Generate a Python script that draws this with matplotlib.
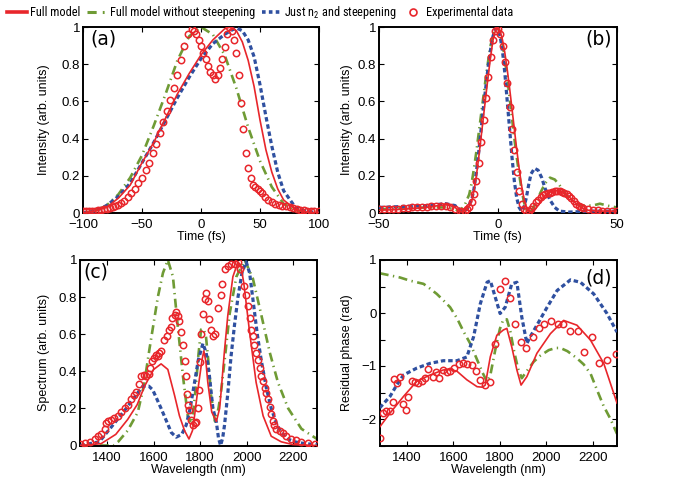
import numpy as np
import matplotlib
matplotlib.use('Agg')
import matplotlib.pyplot as plt
from matplotlib.lines import Line2D
from matplotlib import font_manager

# ------------------------------------------------------------------ data
# (a) intensity vs time (fs)
a_full_t = [-100, -90, -80, -70, -60, -50, -40, -30, -20, -10, 0, 10, 20, 25, 30, 35, 40, 45, 50, 55, 60, 65, 70, 80, 90, 100]
a_full_y = [0.0, 0.01, 0.03, 0.08, 0.15, 0.27, 0.38, 0.51, 0.64, 0.75, 0.85, 0.93, 0.99, 1.0, 0.98, 0.92, 0.82, 0.68, 0.50, 0.34, 0.22, 0.13, 0.07, 0.02, 0.005, 0.0]
a_n2_t = [-100, -90, -80, -70, -60, -50, -40, -30, -20, -10, 0, 10, 20, 25, 30, 35, 40, 45, 50, 55, 60, 65, 70, 80, 90, 100]
a_n2_y = [0.0, 0.01, 0.04, 0.09, 0.16, 0.27, 0.38, 0.50, 0.62, 0.73, 0.83, 0.91, 0.96, 0.98, 0.995, 0.98, 0.93, 0.84, 0.69, 0.52, 0.36, 0.22, 0.12, 0.03, 0.008, 0.0]
a_nost_t = [-100, -90, -80, -70, -60, -50, -40, -30, -20, -10, 0, 10, 20, 30, 40, 50, 60, 70, 80, 90, 100]
a_nost_y = [0.0, 0.01, 0.04, 0.10, 0.19, 0.31, 0.47, 0.64, 0.82, 0.95, 1.0, 0.96, 0.85, 0.67, 0.46, 0.28, 0.14, 0.05, 0.015, 0.003, 0.0]
a_exp_t = [-100, -97.5, -95, -92.5, -90, -87.5, -85, -82.5, -80, -77.5, -75, -72.5, -70, -67.5, -65,
           -62, -59, -56, -53, -50, -47, -44, -41, -38, -35, -32, -29, -26, -23, -20, -17, -14, -11, -8,
           -6, -4, -2, 0, 2, 4, 6, 8, 10, 12, 14, 16, 18, 20, 22, 24, 26, 28, 30, 32, 34, 36, 38, 40,
           42, 44, 46, 48, 50, 52, 54, 57, 60, 63, 66, 69, 72, 75, 78, 81, 84, 87, 90, 93, 96, 100]
a_exp_y = [0.01, 0.01, 0.01, 0.012, 0.013, 0.015, 0.017, 0.02, 0.023, 0.027, 0.032, 0.038, 0.045, 0.055, 0.065,
           0.085, 0.105, 0.13, 0.16, 0.19, 0.23, 0.27, 0.32, 0.37, 0.43, 0.49, 0.55, 0.61, 0.67, 0.74, 0.82, 0.90, 0.96, 0.99,
           0.98, 0.96, 0.93, 0.90, 0.86, 0.83, 0.79, 0.76, 0.74, 0.72, 0.74, 0.78, 0.83, 0.89, 0.96, 1.0, 0.98, 0.93, 0.86, 0.74, 0.59, 0.45, 0.32, 0.24,
           0.19, 0.15, 0.14, 0.13, 0.12, 0.105, 0.085, 0.07, 0.06, 0.05, 0.045, 0.04, 0.035, 0.03, 0.025, 0.02, 0.018, 0.015, 0.012, 0.01, 0.01, 0.01]

# (b) intensity vs time (fs)
b_full_t = [-50, -40, -30, -25, -21, -18, -15.5, -13, -11, -10, -9, -8, -7, -6, -5, -4, -3, -2, -1, 0, 1, 2, 3, 4, 5, 6, 7, 8, 9, 10, 11, 12, 13, 14, 15, 17, 19, 21, 23, 25, 27, 29, 31, 33, 35, 38, 42, 50]
b_full_y = [0.015, 0.02, 0.03, 0.04, 0.045, 0.03, 0.005, 0.02, 0.06, 0.12, 0.20, 0.30, 0.41, 0.52, 0.63, 0.74, 0.84, 0.93, 0.98, 1.0, 0.98, 0.93, 0.86, 0.77, 0.67, 0.56, 0.45, 0.34, 0.24, 0.15, 0.08, 0.035, 0.01, 0.005, 0.01, 0.04, 0.08, 0.105, 0.118, 0.12, 0.115, 0.10, 0.075, 0.05, 0.03, 0.015, 0.01, 0.01]
b_n2_t = [-50, -40, -30, -22, -18, -15, -13, -11, -10, -9, -8, -7, -6, -5, -4, -3, -2, -1, 0, 1, 2, 3, 4, 5, 6, 7, 8, 9, 10, 11, 12, 13, 14, 15.5, 17, 18.5, 20, 22, 24, 26, 30, 40, 50]
b_n2_y = [0.03, 0.035, 0.04, 0.05, 0.04, 0.01, 0.02, 0.07, 0.13, 0.22, 0.33, 0.45, 0.57, 0.68, 0.79, 0.88, 0.95, 0.99, 0.99, 0.95, 0.87, 0.75, 0.60, 0.45, 0.30, 0.17, 0.08, 0.03, 0.01, 0.03, 0.08, 0.15, 0.21, 0.24, 0.23, 0.19, 0.13, 0.07, 0.03, 0.01, 0.005, 0.01, 0.01]
b_nost_t = [-50, -40, -30, -22, -18, -16, -14, -12, -11, -10, -9, -8, -7, -6, -5, -4, -3, -2, -1, 0, 1, 2, 3, 4, 5, 6, 7, 8, 9, 10, 11, 12, 13, 14, 16, 18, 20, 22, 24, 26, 28, 30, 33, 36, 40, 43, 46, 50]
b_nost_y = [0.02, 0.025, 0.03, 0.03, 0.02, 0.01, 0.04, 0.10, 0.16, 0.24, 0.33, 0.43, 0.53, 0.63, 0.73, 0.82, 0.90, 0.96, 0.995, 1.0, 0.97, 0.91, 0.83, 0.73, 0.62, 0.51, 0.40, 0.30, 0.21, 0.13, 0.06, 0.02, 0.005, 0.01, 0.05, 0.11, 0.16, 0.19, 0.18, 0.15, 0.11, 0.08, 0.05, 0.04, 0.04, 0.05, 0.04, 0.03]
b_exp_t = [-50, -48, -46, -44, -42, -40, -38, -36, -34, -32, -30, -28, -26, -24, -22, -20, -18, -16, -15, -14, -13, -12, -11, -10, -9, -8, -7, -6, -5, -4, -3, -2, -1, 0,
           1, 2, 3, 4, 5, 6, 7, 8, 9, 10, 11, 12, 13, 14, 15, 16, 17, 18, 19, 20, 21, 22, 23, 24, 25, 26, 27, 28, 29, 30, 31, 32, 33, 34, 35, 36, 38, 40, 42, 44, 46, 48, 50]
b_exp_y = [0.02, 0.02, 0.02, 0.02, 0.02, 0.025, 0.025, 0.03, 0.03, 0.03, 0.03, 0.035, 0.035, 0.035, 0.035, 0.03, 0.02, 0.01, 0.005, 0.01, 0.02, 0.03, 0.06, 0.10, 0.17, 0.27, 0.38, 0.50, 0.62, 0.73, 0.84, 0.93, 0.98, 0.99,
           0.96, 0.90, 0.81, 0.70, 0.57, 0.45, 0.34, 0.22, 0.12, 0.05, 0.02, 0.01, 0.01, 0.02, 0.04, 0.06, 0.07, 0.085, 0.095, 0.10, 0.105, 0.11, 0.115, 0.118, 0.12, 0.12, 0.115, 0.11, 0.10, 0.09, 0.08, 0.065, 0.05, 0.04, 0.03, 0.025, 0.02, 0.015, 0.015, 0.01, 0.01, 0.01, 0.01]

# (c) spectrum vs wavelength (nm)
c_full_w = [1285, 1374, 1437, 1488, 1529, 1561, 1600, 1632, 1661, 1690, 1711, 1733, 1752, 1767, 1776, 1787, 1798, 1808, 1816, 1825, 1833, 1850, 1870, 1884, 1891, 1904, 1919, 1941, 1963, 1975, 1988, 2013, 2041, 2071, 2106, 2149, 2199, 2303]
c_full_y = [0.0, 0.01, 0.06, 0.14, 0.22, 0.32, 0.41, 0.44, 0.41, 0.27, 0.16, 0.08, 0.035, 0.08, 0.16, 0.27, 0.37, 0.46, 0.51, 0.45, 0.34, 0.18, 0.13, 0.20, 0.30, 0.50, 0.70, 0.91, 0.99, 0.97, 0.875, 0.61, 0.34, 0.16, 0.05, 0.02, 0.005, 0.0]
c_n2_w = [1285, 1366, 1431, 1488, 1529, 1554, 1579, 1596, 1632, 1676, 1697, 1721, 1740, 1757, 1776, 1792, 1812, 1826, 1840, 1855, 1870, 1879, 1888, 1897, 1905, 1919, 1933, 1948, 1963, 1980, 1998, 2013, 2027, 2046, 2063, 2085, 2106, 2128, 2149, 2178, 2207, 2250, 2303]
c_n2_y = [0.0, 0.02, 0.12, 0.21, 0.28, 0.32, 0.32, 0.30, 0.20, 0.07, 0.045, 0.06, 0.11, 0.20, 0.34, 0.46, 0.55, 0.50, 0.375, 0.20, 0.125, 0.04, 0.0, 0.04, 0.11, 0.28, 0.48, 0.65, 0.80, 0.93, 0.99, 0.93, 0.79, 0.60, 0.46, 0.31, 0.20, 0.12, 0.07, 0.035, 0.02, 0.01, 0.005]
c_nost_w = [1285, 1427, 1447, 1488, 1532, 1559, 1582, 1600, 1618, 1640, 1661, 1683, 1704, 1726, 1747, 1762, 1772, 1783, 1792, 1804, 1814, 1825, 1838, 1847, 1864, 1879, 1891, 1909, 1927, 1956, 1992, 2027, 2064, 2100, 2135, 2179, 2236, 2303]
c_nost_y = [0.0, 0.0, 0.02, 0.08, 0.18, 0.33, 0.52, 0.66, 0.80, 0.93, 1.0, 0.91, 0.64, 0.375, 0.16, 0.12, 0.20, 0.34, 0.48, 0.625, 0.63, 0.59, 0.42, 0.27, 0.13, 0.20, 0.30, 0.50, 0.71, 0.91, 1.0, 0.90, 0.70, 0.50, 0.34, 0.20, 0.09, 0.035]
c_exp_w = [1285, 1305, 1326, 1346, 1361, 1374, 1389, 1396, 1403, 1417, 1431, 1445, 1460, 1475, 1489, 1503, 1514, 1525, 1535, 1546, 1558, 1568, 1578, 1585, 1593, 1601, 1608, 1618, 1625, 1632,
           1646, 1659, 1664, 1673, 1680, 1690, 1697, 1704, 1711, 1718, 1726, 1733, 1738, 1743, 1749, 1754, 1762, 1769, 1776, 1783, 1790, 1794, 1801, 1805, 1812, 1819, 1826, 1833, 1840, 1847, 1855, 1862,
           1877, 1888, 1895, 1905, 1919, 1934, 1948, 1963, 1970, 1988, 1998, 2006, 2013, 2020, 2027, 2034, 2041, 2049, 2056, 2064, 2071, 2078, 2085, 2092, 2099, 2106, 2113, 2120, 2127,
           2142, 2157, 2171, 2192, 2214, 2235, 2264, 2293]
c_exp_y = [0.01, 0.015, 0.02, 0.035, 0.05, 0.06, 0.09, 0.12, 0.13, 0.14, 0.15, 0.16, 0.18, 0.20, 0.22, 0.25, 0.27, 0.29, 0.33, 0.375, 0.38, 0.375, 0.385, 0.42, 0.455, 0.47, 0.49, 0.48, 0.50, 0.51,
           0.57, 0.59, 0.625, 0.64, 0.69, 0.705, 0.72, 0.70, 0.67, 0.61, 0.54, 0.455, 0.375, 0.28, 0.22, 0.19, 0.14, 0.11, 0.12, 0.125, 0.20, 0.30, 0.45, 0.60, 0.71, 0.79, 0.82, 0.78, 0.68, 0.625, 0.59, 0.60,
           0.74, 0.81, 0.87, 0.95, 0.97, 0.98, 0.98, 0.99, 0.95, 0.86, 0.81, 0.75, 0.69, 0.625, 0.59, 0.54, 0.50, 0.46, 0.42, 0.375, 0.35, 0.31, 0.285, 0.25, 0.205, 0.17, 0.13, 0.11, 0.09,
           0.08, 0.07, 0.05, 0.035, 0.027, 0.018, 0.012, 0.01]

# (d) residual phase (rad) vs wavelength (nm)
d_full_w = [1284, 1328, 1386, 1443, 1500, 1557, 1586, 1616, 1658, 1702, 1725, 1737, 1759, 1787, 1815, 1830, 1851, 1873, 1891, 1916, 1959, 2017, 2074, 2131, 2189, 2246, 2303]
d_full_y = [-2.15, -1.89, -1.575, -1.29, -1.17, -1.075, -1.06, -1.10, -1.26, -1.39, -1.40, -1.36, -0.825, -0.42, -0.32, -0.29, -0.64, -1.075, -1.36, -1.20, -0.76, -0.39, -0.14, -0.23, -0.51, -0.95, -1.70]
d_n2_w = [1284, 1328, 1357, 1386, 1443, 1500, 1557, 1616, 1658, 1687, 1716, 1745, 1759, 1780, 1801, 1823, 1851, 1873, 1894, 1916, 1930, 1959, 2003, 2046, 2103, 2146, 2203, 2260, 2303]
d_n2_y = [-1.79, -1.575, -1.36, -1.17, -1.04, -0.95, -0.90, -0.90, -0.83, -0.45, 0.175, 0.58, 0.61, 0.30, -0.01, 0.11, 0.55, 0.58, -0.075, -0.575, -0.45, -0.23, 0.11, 0.425, 0.625, 0.58, 0.36, -0.01, -0.36]
d_nost_w = [1284, 1328, 1371, 1414, 1443, 1472, 1500, 1529, 1557, 1586, 1616, 1644, 1673, 1702, 1725, 1745, 1760, 1780, 1800, 1815, 1830, 1845, 1860, 1878, 1894, 1915, 1945, 1975, 2010, 2040, 2060, 2090, 2130, 2160, 2190, 2217, 2245, 2275, 2303]
d_nost_y = [0.75, 0.71, 0.67, 0.61, 0.58, 0.55, 0.46, 0.36, 0.24, 0.11, -0.10, -0.35, -0.58, -0.88, -1.12, -1.30, -1.15, -0.70, -0.30, -0.12, -0.12, -0.35, -0.70, -1.05, -1.23, -1.10, -0.92, -0.80, -0.70, -0.66, -0.66, -0.72, -0.85, -0.97, -1.15, -1.45, -1.75, -2.00, -2.28]
d_exp_w = [1285, 1297, 1312, 1327, 1340, 1346, 1357, 1371, 1386, 1396, 1407, 1421, 1436, 1450, 1464, 1479, 1493, 1511, 1526, 1540, 1557, 1572, 1586, 1601, 1623, 1641, 1658, 1680, 1698, 1716,
           1737, 1759, 1780, 1801, 1823, 1844, 1866, 1891, 1913, 1942, 1966, 1990, 2019, 2048, 2071, 2103, 2134, 2163, 2195, 2227, 2260, 2298]
d_exp_y = [-2.36, -1.89, -1.85, -1.84, -1.67, -1.25, -1.33, -1.20, -1.71, -1.83, -1.58, -1.28, -1.31, -1.32, -1.28, -1.23, -1.06, -1.21, -1.12, -1.23, -1.08, -1.12, -1.09, -1.04, -0.97, -0.95, -0.96, -0.99, -1.09, -1.26,
           -1.36, -1.31, -0.59, 0.46, 0.60, 0.28, -0.21, -0.54, -0.66, -0.46, -0.28, -0.21, -0.16, -0.21, -0.20, -0.34, -0.34, -0.73, -0.45, -0.94, -0.89, -0.78]

legend_labels = ['Full model', 'Full model without steepening', 'Just n$_2$ and steepening', 'Experimental data']
panel_letters = ['(a)', '(b)', '(c)', '(d)']

# ------------------------------------------------------------------ style
names = {f.name for f in font_manager.fontManager.ttflist}
base_font = 'Liberation Sans' if 'Liberation Sans' in names else 'DejaVu Sans'
narrow_font = None
for cand in ['Liberation Sans Narrow', 'Arial Narrow', 'Roboto Condensed', 'IBM Plex Sans Condensed']:
    if cand in names:
        narrow_font = cand
        break
plt.rcParams['font.family'] = [base_font, 'DejaVu Sans']
plt.rcParams['axes.unicode_minus'] = True
plt.rcParams['mathtext.fontset'] = 'custom'
legend_font = narrow_font if narrow_font else base_font
plt.rcParams['mathtext.rm'] = legend_font
plt.rcParams['mathtext.default'] = 'rm'

RED = '#e8262b'
GREEN = '#6f9b35'
BLUE = '#2f50a0'

full_kw = dict(color=RED, lw=1.2, zorder=4)
nost_kw = dict(color=GREEN, lw=1.9, linestyle=(0, (3.4, 1.7, 0.5, 1.7)), zorder=2)
n2_kw = dict(color=BLUE, lw=2.3, linestyle=(0, (1.4, 0.9)), zorder=3)
exp_kw = dict(linestyle='none', marker='o', markersize=4.6, markerfacecolor='none',
              markeredgecolor=RED, markeredgewidth=1.1, zorder=5)

fig = plt.figure(figsize=(6.78, 4.78), dpi=100)

W, H = 678.0, 478.0
rects = [
    (83, 27, 319, 213),
    (379, 27, 616.5, 213),
    (80, 260, 317, 445.5),
    (379.5, 260, 617, 445.5),
]
axes = []
for (l, t, r, b) in rects:
    ax = fig.add_axes([l / W, 1 - b / H, (r - l) / W, (b - t) / H])
    axes.append(ax)


def style(ax):
    for s in ax.spines.values():
        s.set_linewidth(1.4)
    ax.tick_params(direction='in', length=3.5, width=0.8, top=True, right=True,
                   labelsize=9.5)
    ax.tick_params(axis='x', pad=4.5)
    ax.tick_params(axis='y', pad=2)


# (a)
ax = axes[0]
ax.plot(a_nost_t, a_nost_y, **nost_kw)
ax.plot(a_n2_t, a_n2_y, **n2_kw)
ax.plot(a_full_t, a_full_y, **full_kw)
ax.plot(a_exp_t, a_exp_y, **exp_kw)
ax.set_xlim(-100, 100)
ax.set_ylim(0, 1)
ax.set_xticks([-100, -50, 0, 50, 100])
ax.set_ylabel('Intensity (arb. units)', fontsize=9)
ax.set_xlabel('Time (fs)', fontsize=9, labelpad=-0.5)

# (b)
ax = axes[1]
ax.plot(b_nost_t, b_nost_y, **nost_kw)
ax.plot(b_n2_t, b_n2_y, **n2_kw)
ax.plot(b_full_t, b_full_y, **full_kw)
ax.plot(b_exp_t, b_exp_y, **exp_kw)
ax.set_xlim(-50, 50)
ax.set_ylim(0, 1)
ax.set_xticks([-50, 0, 50])
ax.set_ylabel('Intensity (arb. units)', fontsize=9)
ax.set_xlabel('Time (fs)', fontsize=9, labelpad=-0.5)

# (c)
ax = axes[2]
ax.plot(c_nost_w, c_nost_y, **nost_kw)
ax.plot(c_n2_w, c_n2_y, **n2_kw)
ax.plot(c_full_w, c_full_y, **full_kw)
ax.plot(c_exp_w, c_exp_y, **exp_kw)
ax.set_xlim(1283, 2303)
ax.set_ylim(0, 1)
ax.set_xticks([1400, 1600, 1800, 2000, 2200])
ax.set_ylabel('Spectrum (arb. units)', fontsize=9)
ax.set_xlabel('Wavelength (nm)', fontsize=9, labelpad=0)

# (d)
ax = axes[3]
ax.plot(d_nost_w, d_nost_y, **nost_kw)
ax.plot(d_n2_w, d_n2_y, **n2_kw)
ax.plot(d_full_w, d_full_y, **full_kw)
ax.plot(d_exp_w, d_exp_y, **exp_kw)
ax.set_xlim(1283, 2303)
ax.set_ylim(-2.5, 1)
ax.set_xticks([1400, 1600, 1800, 2000, 2200])
dy = np.arange(-2.5, 1.01, 0.5)
ax.set_yticks(dy)
ax.set_yticklabels(['\u2212%d' % abs(round(v)) if (abs(v - round(v)) < 1e-6 and v < 0) else
                    ('%d' % round(v) if abs(v - round(v)) < 1e-6 else '') for v in dy])
ax.set_ylabel('Residual phase (rad)', fontsize=9)
ax.set_xlabel('Wavelength (nm)', fontsize=9, labelpad=0)

ylab_x = [-0.14, -0.111, -0.127, -0.112]
for ax, lx in zip(axes, ylab_x):
    style(ax)
    ax.yaxis.set_label_coords(lx, 0.5)

for ax in axes[:3]:
    ax.set_yticks([0, 0.2, 0.4, 0.6, 0.8, 1.0])
    ax.set_yticklabels(['0', '0.2', '0.4', '0.6', '0.8', '1'])

# panel letters
letter_pos = [(0.03, 0.985, 'left'), (0.98, 0.985, 'right'), (0.015, 0.985, 'left'), (0.98, 0.955, 'right')]
for ax, letter, (x, y, ha) in zip(axes, panel_letters, letter_pos):
    ax.text(x, y, letter, transform=ax.transAxes, ha=ha, va='top', fontsize=13.5,
            family=['DejaVu Sans'], zorder=10)

# legend
handles = [
    Line2D([], [], color=RED, lw=2.6),
    Line2D([], [], color=GREEN, lw=2.2, linestyle=(0, (3.0, 2.0, 0.6, 2.0))),
    Line2D([], [], color=BLUE, lw=2.6, linestyle=(0, (1.0, 0.9))),
    Line2D([], [], linestyle='none', marker='o', markersize=5, markerfacecolor='none',
           markeredgecolor=RED, markeredgewidth=1.2),
]
leg_size = 8.8 if narrow_font else 8.2
fig.legend(handles, legend_labels, loc='center left', bbox_to_anchor=(0.011, 1 - 12.5 / H),
           ncol=4, frameon=False, handlelength=1.6, handletextpad=0.25, columnspacing=0.55,
           borderaxespad=0, borderpad=0,
           prop={'family': [legend_font, 'DejaVu Sans'], 'size': leg_size})

fig.savefig('out.png', dpi=100)
